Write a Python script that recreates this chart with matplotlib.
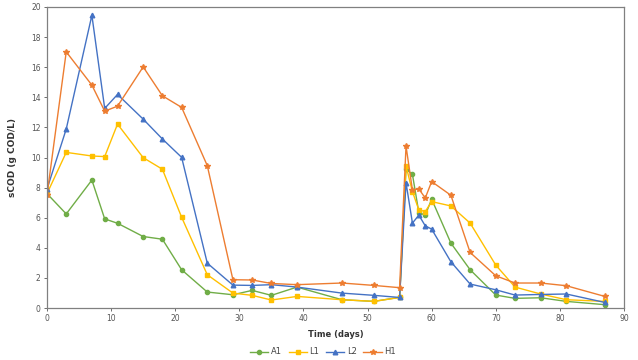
import matplotlib
matplotlib.use("Agg")
import matplotlib.pyplot as plt

days = [0, 3, 7, 9, 11, 15, 18, 21, 25, 29, 32, 35, 39, 46, 51, 55, 56, 57, 58, 59, 60, 63, 66, 70, 73, 77, 81, 87]
A1 = [7.6, 6.25, 8.5, 5.92, 5.63, 4.75, 4.57, 2.54, 1.06, 0.88, 1.17, 0.84, 1.39, 0.55, 0.44, 0.71,
      9.22, 8.88, 6.34, 6.17, 7.23, 4.31, 2.54, 0.86, 0.64, 0.68, 0.44, 0.22]
L1 = [7.6, 10.34, 10.10, 10.06, 12.22, 9.99, 9.22, 6.03, 2.21, 0.99, 0.84, 0.53, 0.77, 0.55, 0.44, 0.70,
      9.44, 7.73, 6.52, 6.41, 7.07, 6.78, 5.64, 2.85, 1.39, 0.93, 0.55, 0.44]
L2 = [7.9, 11.89, 19.45, 13.26, 14.19, 12.55, 11.23, 10.01, 2.98, 1.52, 1.50, 1.55, 1.39, 0.99, 0.84, 0.70,
      8.33, 5.64, 6.17, 5.46, 5.24, 3.07, 1.59, 1.21, 0.86, 0.90, 0.93, 0.37]
H1 = [7.5, 17.02, 14.81, 13.08, 13.41, 16.02, 14.10, 13.33, 9.46, 1.88, 1.86, 1.63, 1.55, 1.66, 1.50, 1.35,
      10.76, 7.84, 7.91, 7.31, 8.40, 7.49, 3.69, 2.14, 1.66, 1.66, 1.48, 0.77]

series = [("A1", A1, "#70AD47", "o", 3.0),
          ("L1", L1, "#FFC000", "s", 3.0),
          ("L2", L2, "#4472C4", "^", 3.3),
          ("H1", H1, "#ED7D31", "*", 4.0)]

x_ticks = list(range(0, 91, 10))
y_ticks = list(range(0, 21, 2))

fig = plt.figure(figsize=(6.38, 3.6), dpi=100)
ax = fig.add_axes([47/638, 1-308/360, (624-47)/638, (308-7)/360])

for name, vals, col, mk, ms in series:
    ax.plot(days, vals, color=col, marker=mk, markersize=ms, linewidth=1.0, label=name)

ax.set_xlim(0, 90)
ax.set_ylim(0, 20)
ax.set_xticks(x_ticks)
ax.set_yticks(y_ticks)
ax.tick_params(labelsize=5.5, colors="#555555", length=2.5, width=0.6, pad=2)
for s in ax.spines.values():
    s.set_color("#808080")
    s.set_linewidth(0.9)

ax.set_xlabel("Time (days)", fontsize=6, fontweight="bold", color="#333333", labelpad=5)
ax.set_ylabel("sCOD (g COD/L)", fontsize=6.5, fontweight="bold", color="#333333", labelpad=10)

fig.legend(loc="center", bbox_to_anchor=(323/638, 1-352/360), ncol=4, frameon=False,
           fontsize=6, handlelength=2.2, columnspacing=0.8, handletextpad=0.3,
           labelcolor="#444444")

fig.savefig("out.png", dpi=100)
